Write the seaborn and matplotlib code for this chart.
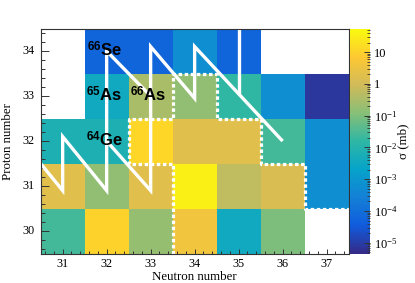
import matplotlib
matplotlib.use("Agg")
import matplotlib.pyplot as plt
import numpy as np
import pandas as pd
import seaborn as sns
from matplotlib.colors import LinearSegmentedColormap, LogNorm
from matplotlib.ticker import FixedLocator, LogLocator, FuncFormatter, NullFormatter

# chart grid: neutron number across, proton number down (top row first)
neutrons = [31, 32, 33, 34, 35, 36, 37]
protons = [34, 33, 32, 31, 30]

# cross sections in mb, one list per proton row (nan = no data)
xs_z34 = [np.nan, 6e-5, 6e-5, 6e-4, 6e-5, np.nan, np.nan]
xs_z33 = [np.nan, 3.5e-3, 0.3, 0.16, 0.016, 6e-4, 8e-6]
xs_z32 = [7e-3, 7e-3, 12, 1.8, 1.8, 0.026, 6e-4]
xs_z31 = [1.8, 0.16, 1.8, 34, 0.58, 1.3, 6e-4]
xs_z30 = [0.026, 10, 0.18, 3.8, 3.5e-3, 0.1, np.nan]

# labelled nuclides: mass, symbol, N, Z
nuclides = [("66", "Se", 32, 34), ("65", "As", 32, 33), ("66", "As", 33, 33), ("64", "Ge", 32, 32)]

# reaction flow lines (N, Z)
flow_a_n = [30.5, 31, 31, 32, 32, 33]
flow_a_z = [31.5, 30.9, 32.1, 30.9, 34.0, 33.0]
flow_b_n = [32, 33, 33, 34, 34, 36]
flow_b_z = [32.0, 30.9, 34.1, 32.95, 34.1, 32.0]
flow_c_n = [35, 35]
flow_c_z = [34.7, 33.05]

# dotted boundary (N, Z)
border_n = [33.5, 33.5, 32.5, 32.5, 33.5, 33.5, 34.5, 34.5, 35.5, 35.5, 36.5, 36.5, 37.5]
border_z = [29.5, 31.5, 31.5, 32.5, 32.5, 33.5, 33.5, 32.5, 32.5, 31.5, 31.5, 30.5, 30.5]

plt.rcParams["font.family"] = ["Liberation Serif", "DejaVu Serif"]
plt.rcParams["mathtext.fontset"] = "custom"
plt.rcParams["mathtext.rm"] = "Liberation Serif"
plt.rcParams["mathtext.it"] = "Liberation Serif:italic"
plt.rcParams["mathtext.bf"] = "Liberation Sans:bold"

# ROOT kBird palette
bird = LinearSegmentedColormap.from_list("bird", [
    (0.2082, 0.1664, 0.5293), (0.0592, 0.3599, 0.8684), (0.0780, 0.5041, 0.8385),
    (0.0232, 0.6419, 0.7914), (0.1802, 0.7178, 0.6425), (0.5301, 0.7492, 0.4662),
    (0.8186, 0.7328, 0.3499), (0.9956, 0.7862, 0.1968), (0.9764, 0.9832, 0.0539)])

df = pd.DataFrame([xs_z34, xs_z33, xs_z32, xs_z31, xs_z30], index=protons, columns=neutrons)

fig = plt.figure(figsize=(4.15, 2.83), dpi=100)
ax = fig.add_axes([0.098, 0.104, 0.742, 0.795])
cax = fig.add_axes([0.843, 0.104, 0.049, 0.795])

sns.heatmap(df, ax=ax, cbar_ax=cax, cmap=bird, norm=LogNorm(vmin=4.6e-6, vmax=55),
            linewidths=0)


def to_hm(n_list, z_list):
    # heatmap coords: column index + 0.5 at the N centre, rows from top
    return [n - neutrons[0] + 0.5 for n in n_list], [protons[0] + 0.5 - z for z in z_list]


for n_list, z_list in [(flow_a_n, flow_a_z), (flow_b_n, flow_b_z), (flow_c_n, flow_c_z)]:
    hx, hy = to_hm(n_list, z_list)
    ax.plot(hx, hy, color="white", lw=2.4, solid_joinstyle="miter", solid_capstyle="butt")

bx, by = to_hm(border_n, border_z)
ax.plot(bx, by, color="white", lw=2.3, linestyle=(0, (1.1, 0.8)), dash_capstyle="butt")

for mass, sym, n, z in nuclides:
    hx, hy = to_hm([n - 0.05], [z + 0.02])
    ax.text(hx[0], hy[0], rf"$^{{\mathbf{{{mass}}}}}$" + sym, ha="center", va="center",
            fontsize=12, fontweight="bold", family="Liberation Sans", color="black")

# axes ticks in ROOT style
ax.set_xticks(np.arange(len(neutrons)) + 0.5)
ax.set_xticklabels([str(n) for n in neutrons], rotation=0)
ax.set_yticks(np.arange(len(protons)) + 0.5)
ax.set_yticklabels([str(z) for z in protons], rotation=0)
ax.xaxis.set_minor_locator(FixedLocator(np.arange(0.1, len(neutrons), 0.2)))
ax.yaxis.set_minor_locator(FixedLocator(np.arange(0.1, len(protons), 0.2)))
ax.tick_params(axis="x", which="major", direction="in", length=3.6, width=0.7,
               labelsize=8.8, pad=3, color="#333333")
ax.tick_params(axis="x", which="minor", direction="in", length=2, width=0.7, color="#333333")
ax.tick_params(axis="y", which="major", direction="in", length=5.8, width=0.7,
               labelsize=8.8, pad=4.5, color="#333333")
ax.tick_params(axis="y", which="minor", direction="in", length=2.9, width=0.7, color="#333333")
ax.tick_params(top=False, right=False, which="both")
for sp in ax.spines.values():
    sp.set_visible(True)
    sp.set_color("#333333")
    sp.set_linewidth(0.8)

ax.set_xlabel("Neutron number", fontsize=9.3)
ax.set_ylabel("Proton number", fontsize=9.3)
ax.xaxis.set_label_coords(0.5, -0.078)
ax.yaxis.set_label_coords(-0.088, 0.5)

# colour bar
cbar = ax.collections[0].colorbar
cbar.outline.set_visible(False)


def cb_fmt(v, pos):
    e = int(round(np.log10(v)))
    if e == 0:
        return "1"
    if e == 1:
        return "10"
    return rf"$\mathrm{{10^{{{e}}}}}$"


cax.yaxis.set_major_locator(FixedLocator([1e-5, 1e-4, 1e-3, 1e-2, 1e-1, 1, 10]))
cax.yaxis.set_major_formatter(FuncFormatter(cb_fmt))
cax.yaxis.set_minor_locator(LogLocator(subs=np.arange(2, 10), numticks=20))
cax.yaxis.set_minor_formatter(NullFormatter())
cax.yaxis.set_ticks_position("right")
cax.tick_params(which="major", direction="in", length=4.5, width=0.7, labelsize=9, pad=3,
                color="#333333")
cax.tick_params(which="minor", direction="in", length=2.2, width=0.6, color="#333333")
cbar.set_label("σ (mb)", fontsize=9.3)
cax.yaxis.set_label_coords(2.35, 0.5)

fig.savefig("out.png", dpi=100)
